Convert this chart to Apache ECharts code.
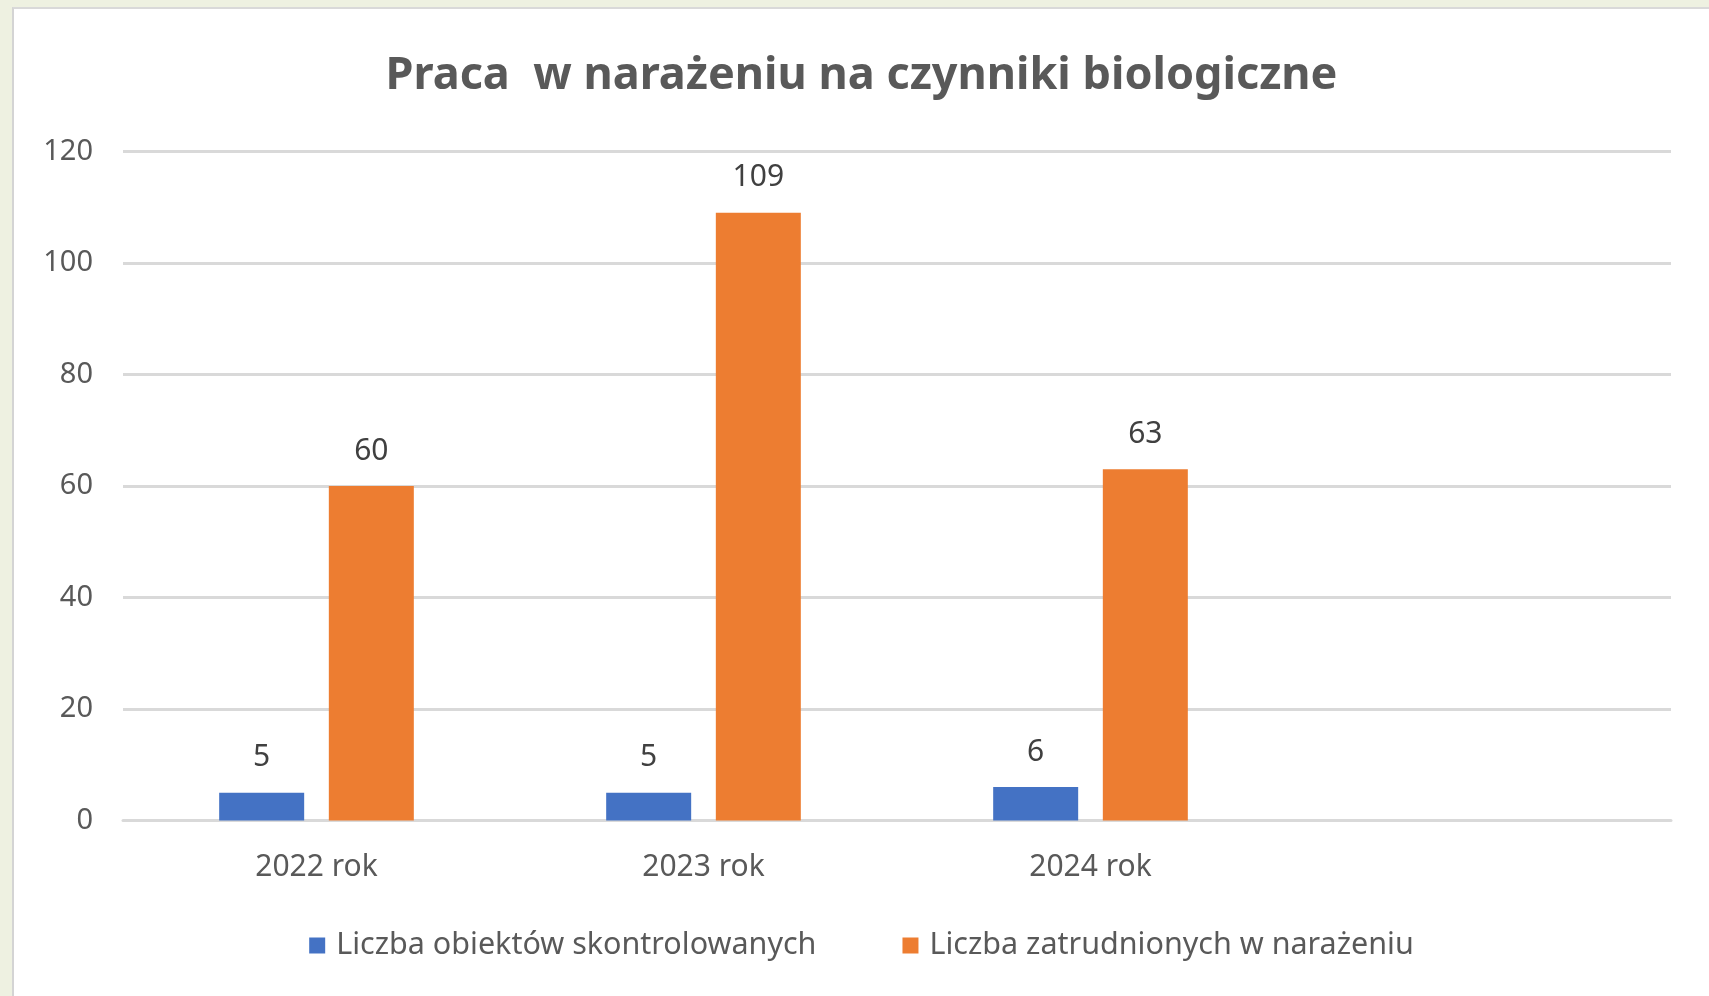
<!DOCTYPE html>
<html><head><meta charset="utf-8">
<script src="https://cdn.jsdelivr.net/npm/echarts@6/dist/echarts.min.js"></script>
<style>
html,body{margin:0;padding:0;width:1709px;height:996px;overflow:hidden;background:#eef1e1;}
#c{position:absolute;left:12px;top:7px;width:1697px;height:989px;background:#fff;border-left:2px solid #d4d4d4;border-top:2px solid #d9d9d9;box-sizing:border-box;}
</style></head>
<body><div id="c"></div>
<script>
const categories = ['2022 rok','2023 rok','2024 rok',''];
const seriesNames = ['Liczba obiektów skontrolowanych','Liczba zatrudnionych w narażeniu'];
const objects = [5,5,6,null];
const employees = [60,109,63,null];
const titleText = 'Praca  w narażeniu na czynniki biologiczne';
const font = "'Noto Sans', 'Open Sans', sans-serif";
const chart = echarts.init(document.getElementById('c'));
const lbl = {show:true, position:'top', distance:20, fontSize:30, color:'#404040', fontFamily:font};
chart.setOption({
  animation:false,
  title:{text:titleText, left:'center', top:40, textStyle:{fontSize:45, fontWeight:'bold', color:'#595959', fontFamily:font}},
  grid:{left:109, right:38, top:142.5, bottom:175.5, containLabel:false},
  legend:{bottom:30, left:'center', itemWidth:16, itemHeight:16, itemGap:86, icon:'rect',
    textStyle:{fontSize:30.5, color:'#595959', fontFamily:font, padding:[0,0,0,6]}},
  xAxis:{type:'category', data:categories, axisTick:{show:false},
    axisLine:{lineStyle:{color:'#d9d9d9', width:3}},
    axisLabel:{fontSize:30, color:'#595959', margin:32, fontFamily:font}},
  yAxis:{type:'value', min:0, max:120, interval:20, axisLine:{show:false}, axisTick:{show:false},
    splitLine:{lineStyle:{color:'#d9d9d9', width:3}},
    axisLabel:{fontSize:29, color:'#595959', margin:30, fontFamily:font}},
  series:[
    {name:seriesNames[0], type:'bar', data:objects, barWidth:85, barGap:'29%', itemStyle:{color:'#4472C4'}, label:lbl},
    {name:seriesNames[1], type:'bar', data:employees, barWidth:85, barGap:'29%', itemStyle:{color:'#ED7D31'}, label:lbl}
  ]
});
</script></body></html>
